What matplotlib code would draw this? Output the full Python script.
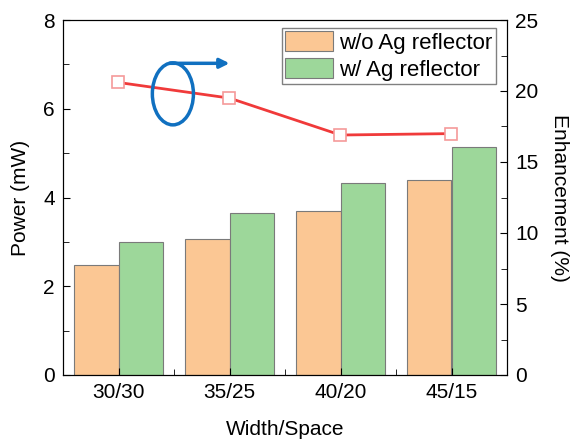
import numpy as np
import matplotlib.pyplot as plt
from matplotlib.patches import Ellipse
from matplotlib.ticker import MultipleLocator

categories = ['30/30', '35/25', '40/20', '45/15']
power_without = [2.48, 3.06, 3.69, 4.39]
power_with = [2.99, 3.66, 4.32, 5.14]
enhancement = [20.6, 19.5, 16.9, 17.0]

plt.rcParams['font.family'] = ['Liberation Sans', 'DejaVu Sans']
plt.rcParams['font.size'] = 15


def main():
    fig = plt.figure(figsize=(5.76, 4.41), dpi=100)
    ax = fig.add_axes([63 / 576, 1 - 375 / 441, 444 / 576, 355 / 441])
    x = np.arange(len(categories))
    w = 0.4

    ax.bar(x - w / 2, power_without, w, color='#fbc794', edgecolor='#7a7a7a',
           linewidth=0.8, label='w/o Ag reflector')
    ax.bar(x + w / 2, power_with, w, color='#9dd79a', edgecolor='#7a7a7a',
           linewidth=0.8, label='w/ Ag reflector')

    ax.set_xlim(-0.5, 3.5)
    ax.set_ylim(0, 8)
    ax.set_xticks(x)
    ax.set_xticklabels(categories)
    ax.xaxis.set_minor_locator(MultipleLocator(0.5))
    ax.yaxis.set_major_locator(MultipleLocator(2))
    ax.yaxis.set_minor_locator(MultipleLocator(1))
    ax.tick_params(which='both', direction='in', top=False, pad=6)
    ax.tick_params(which='major', length=5)
    ax.tick_params(which='minor', length=4)
    ax.set_xlabel('Width/Space', labelpad=13)
    ax.set_ylabel('Power (mW)', labelpad=9)

    leg = ax.legend(loc='upper right', bbox_to_anchor=(496 / 576, 1 - 28 / 441),
                    bbox_transform=fig.transFigure, borderaxespad=0,
                    fontsize=16, fancybox=False,
                    edgecolor='#808080', framealpha=1, handlelength=2.15,
                    handleheight=1.0, borderpad=0.15,
                    labelspacing=0.2, handletextpad=0.3)
    leg.get_frame().set_linewidth(1.0)

    ax2 = ax.twinx()
    ax2.plot(x, enhancement, '-', color='#f03a3a', linewidth=2, zorder=2)
    ax2.plot(x, enhancement, 's', markersize=9, markerfacecolor='white',
             markeredgecolor='#f59a9a', markeredgewidth=1.2, zorder=3)
    ax2.set_ylim(0, 25)
    ax2.yaxis.set_major_locator(MultipleLocator(5))
    ax2.yaxis.set_minor_locator(MultipleLocator(2.5))
    ax2.tick_params(which='both', direction='in', pad=6)
    ax2.tick_params(which='major', length=5)
    ax2.tick_params(which='minor', length=4)
    ax2.set_ylabel('Enhancement (%)', rotation=270, labelpad=22)

    # circle + arrow pointing to the right axis
    ell = Ellipse((0.49, 19.8), 0.37, 4.37, fill=False, edgecolor='#1070c0',
                  linewidth=2.5, zorder=4)
    ax2.add_patch(ell)
    ax2.annotate('', xy=(1.0, 21.95), xytext=(0.46, 21.95),
                 arrowprops=dict(arrowstyle='-|>', color='#1070c0', lw=2.5,
                                 mutation_scale=14, shrinkA=0, shrinkB=0))

    fig.savefig('out.png', dpi=100)


main()
